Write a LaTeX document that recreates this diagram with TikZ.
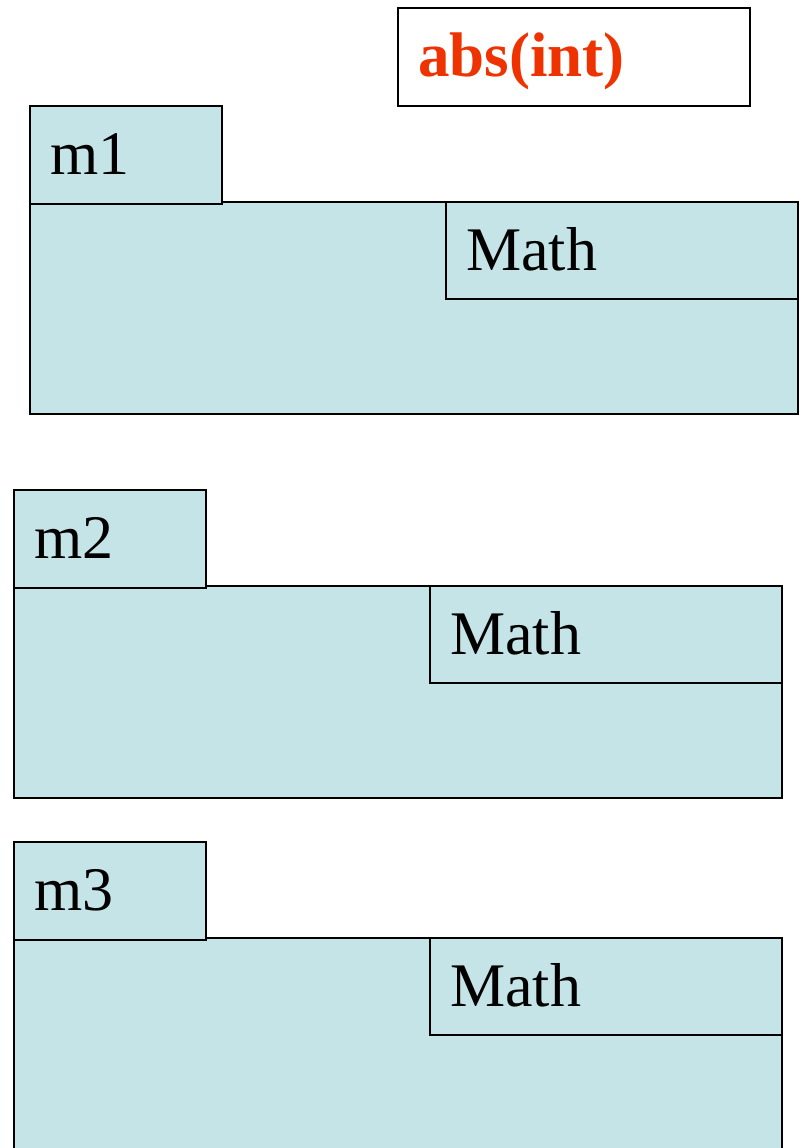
\documentclass[tikz,border=0pt]{standalone}
\usepackage{fontspec}
\setmainfont{Liberation Serif}
\usetikzlibrary{positioning, calc}
\definecolor{modfill}{HTML}{C5E4E8}
\definecolor{absred}{HTML}{EE3300}

\begin{document}
\begin{tikzpicture}[
    x=1pt,
    y=-1pt,
    box/.style={draw=black, line width=1.6pt, fill=modfill, rectangle, inner sep=0pt, anchor=north west},
    big/.style={font=\fontsize{62}{70}\selectfont, inner sep=0pt, anchor=base west}
]
\clip (0,0) rectangle (804,1148);
\useasboundingbox (0,0) rectangle (804,1148);
% Header box
\node[draw=black, line width=1.6pt, rectangle, minimum width=352pt, minimum height=98pt, inner sep=0pt, anchor=north west] (absbox) at (397,7) {};
\node[big, font=\fontsize{63}{70}\selectfont\bfseries, text=absred] (abstext) at ($(absbox.north west)+(21,69)$) {abs(int)};
% Modules
\foreach \i/\x/\y in {1/29/105, 2/13/489, 3/13/841} {
    \node[box, minimum width=768pt, minimum height=212pt] (body\i) at (\x,\y+96) {};
    \node[box, minimum width=192pt, minimum height=98pt] (tab\i) at (\x,\y) {};
    \node[box, minimum width=352pt, minimum height=97pt] (math\i) at (\x+416,\y+96) {};
    \node[big] (tabtext\i) at ($(tab\i.north west)+(21,69)$) {m\i};
    \node[big] (mathtext\i) at ($(math\i.north west)+(21,69)$) {Math};
}
\end{tikzpicture}
\end{document}
